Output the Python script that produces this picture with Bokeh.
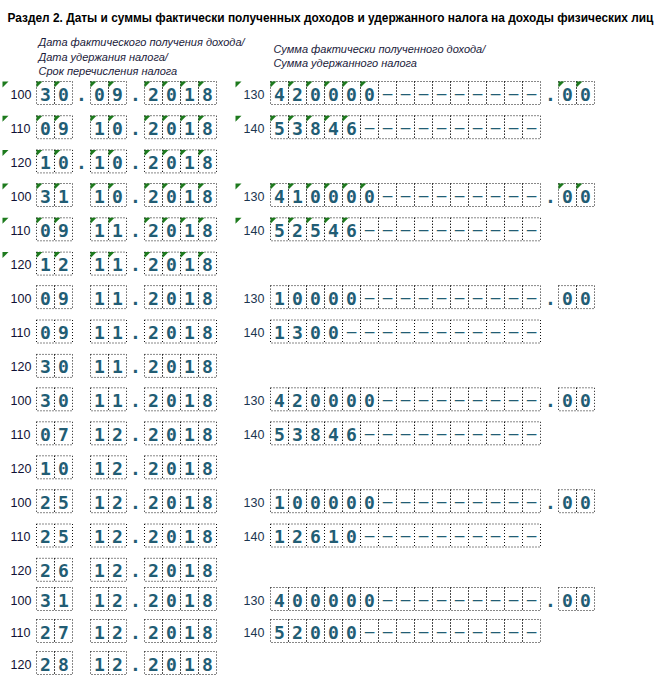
from bokeh.plotting import figure
from bokeh.models import Range1d, ColumnDataSource
from bokeh.core.properties import value
from bokeh.embed import file_html
from bokeh.resources import INLINE

# ---------------- data ----------------
TITLE = "Раздел 2. Даты и суммы фактически полученных доходов и удержанного налога на доходы физических лиц"
HDR_LEFT = ["Дата фактического получения дохода/", "Дата удержания налога/", "Срок перечисления налога"]
HDR_RIGHT = ["Сумма фактически полученного дохода/", "Сумма удержанного налога"]
codes_left = ["100", "110", "120"]
codes_right = ["130", "140"]
# dates as shown in the form (a space where the separator dot is missing)
income_dates = ["30.09.2018", "31 10.2018", "09 11.2018", "30 11.2018", "25 12.2018", "31 12.2018"]
withhold_dates = ["09 10.2018", "09 11.2018", "09 11.2018", "07 12.2018", "25 12.2018", "27 12.2018"]
transfer_dates = ["10.10.2018", "12 11.2018", "30 11.2018", "10 12.2018", "26 12.2018", "28 12.2018"]
income_amounts = [420000, 410000, 10000, 420000, 100000, 400000]
income_kopecks = ["00", "00", "00", "00", "00", "00"]
tax_amounts = [53846, 52546, 1300, 53846, 12610, 52000]
marked_blocks = [True, True, False, False, False, False]

# ---------------- layout ----------------
BLOCK_Y = [92.5, 194.5, 296.6, 398.8, 500.7, 598.5]   # layout: vertical position of each block
ROW_GAP = [34.2, 34.3, 34.4, 34.0, 34.3, 32.0]        # layout: spacing of rows in each block
CW, CH = 18, 23
DAY_X, MON_X, YEAR_X = 36, 90, 144
DOT1_X, DOT2_X = 81, 135
MONEY_X, MONEY_N, MDOT_X, KOP_X = 270, 15, 550, 558
LBL_L_X, LBL_R_X = 10, 243
TRI_L_X, TRI_R_X = 2, 235

DIGIT_COLOR = "#225d74"
TRI_COLOR = "#1d7a1d"

cells = dict(x=[], y=[])
digits = dict(x=[], y=[], t=[])
dashes = dict(x=[], y=[], t=[])
dots = dict(x=[], y=[])
tris = dict(xs=[], ys=[])
lbl_l = dict(x=[], y=[], t=[])
lbl_r = dict(x=[], y=[], t=[])


def tri(x0, top):
    tris["xs"].append([x0, x0 + 6, x0])
    tris["ys"].append([top, top, top + 6])


def add_group(x0, y, chars, mark):
    for i, ch in enumerate(chars):
        cx = x0 + i * CW + CW / 2
        cells["x"].append(cx)
        cells["y"].append(y)
        if ch == "-":
            dashes["x"].append(cx); dashes["y"].append(y); dashes["t"].append("–")
        else:
            digits["x"].append(cx); digits["y"].append(y); digits["t"].append(ch)
            if mark:
                tri(x0 + i * CW, y - CH / 2)


for b in range(len(income_dates)):
    mark = marked_blocks[b]
    yb = BLOCK_Y[b]
    gap = ROW_GAP[b]
    for r, d in enumerate([income_dates[b], withhold_dates[b], transfer_dates[b]]):
        y = yb + r * gap
        lbl_l["x"].append(LBL_L_X); lbl_l["y"].append(y + 1); lbl_l["t"].append(codes_left[r])
        if mark:
            tri(TRI_L_X, y - CH / 2)
        add_group(DAY_X, y, d[0:2], mark)
        add_group(MON_X, y, d[3:5], mark)
        add_group(YEAR_X, y, d[6:10], mark)
        if d[2] == ".":
            dots["x"].append(DOT1_X); dots["y"].append(y)
        dots["x"].append(DOT2_X); dots["y"].append(y)
    # money rows
    for r, (amt, kop) in enumerate([(income_amounts[b], income_kopecks[b]), (tax_amounts[b], None)]):
        y = yb + r * gap
        lbl_r["x"].append(LBL_R_X); lbl_r["y"].append(y + 1); lbl_r["t"].append(codes_right[r])
        if mark:
            tri(TRI_R_X, y - CH / 2)
        s = str(amt)
        s = s + "-" * (MONEY_N - len(s))
        add_group(MONEY_X, y, s, mark)
        if kop is not None:
            dots["x"].append(MDOT_X); dots["y"].append(y)
            add_group(KOP_X, y, kop, mark)

# ---------------- figure ----------------
p = figure(width=659, height=675, output_backend="svg", toolbar_location=None,
           x_range=Range1d(0, 659), y_range=Range1d(675, 0), min_border=0)
p.axis.visible = False
p.grid.visible = False
p.outline_line_color = None
p.background_fill_color = "white"
p.border_fill_color = "white"

p.rect(x="x", y="y", width=CW, height=CH, source=ColumnDataSource(cells),
       fill_color=None, line_color="#111111", line_width=1, line_dash="1 2")
p.patches(xs="xs", ys="ys", source=ColumnDataSource(tris), fill_color=TRI_COLOR, line_color=None)

p.text(x="x", y="y", text="t", source=ColumnDataSource(digits), text_align="center",
       text_baseline="middle", text_font=value("DejaVu Sans Mono"), text_font_style="bold",
       text_font_size="18px", text_color=DIGIT_COLOR, y_offset=1)
p.text(x="x", y="y", text="t", source=ColumnDataSource(dashes), text_align="center",
       text_baseline="middle", text_font=value("DejaVu Sans Mono"), text_font_size="16px",
       text_color=DIGIT_COLOR)
p.text(x="x", y="y", text=value("."), source=ColumnDataSource(dots), text_align="center",
       text_baseline="middle", text_font=value("DejaVu Sans Mono"), text_font_style="bold",
       text_font_size="18px", text_color=DIGIT_COLOR, y_offset=1)

p.text(x="x", y="y", text="t", source=ColumnDataSource(lbl_l), text_align="left",
       text_baseline="middle", text_font=value("Liberation Sans"), text_font_size="12.5px",
       text_color="#101035")
p.text(x="x", y="y", text="t", source=ColumnDataSource(lbl_r), text_align="left",
       text_baseline="middle", text_font=value("Liberation Sans"), text_font_size="12.5px",
       text_color="#1b3550")

p.text(x=[7], y=[17], text=[TITLE], text_align="left", text_baseline="middle",
       text_font=value("Liberation Sans"), text_font_style="bold", text_font_size="11.9px",
       text_color="#000000")
p.text(x=[38, 38, 38], y=[41, 56, 70], text=HDR_LEFT, text_align="left", text_baseline="middle",
       text_font=value("Liberation Sans"), text_font_style="italic", text_font_size="11px",
       text_color="#1a1a3a")
p.text(x=[273, 273], y=[48, 62], text=HDR_RIGHT, text_align="left", text_baseline="middle",
       text_font=value("Liberation Sans"), text_font_style="italic", text_font_size="11px",
       text_color="#1a1a3a")

open("out.html", "w").write(file_html(p, INLINE))
